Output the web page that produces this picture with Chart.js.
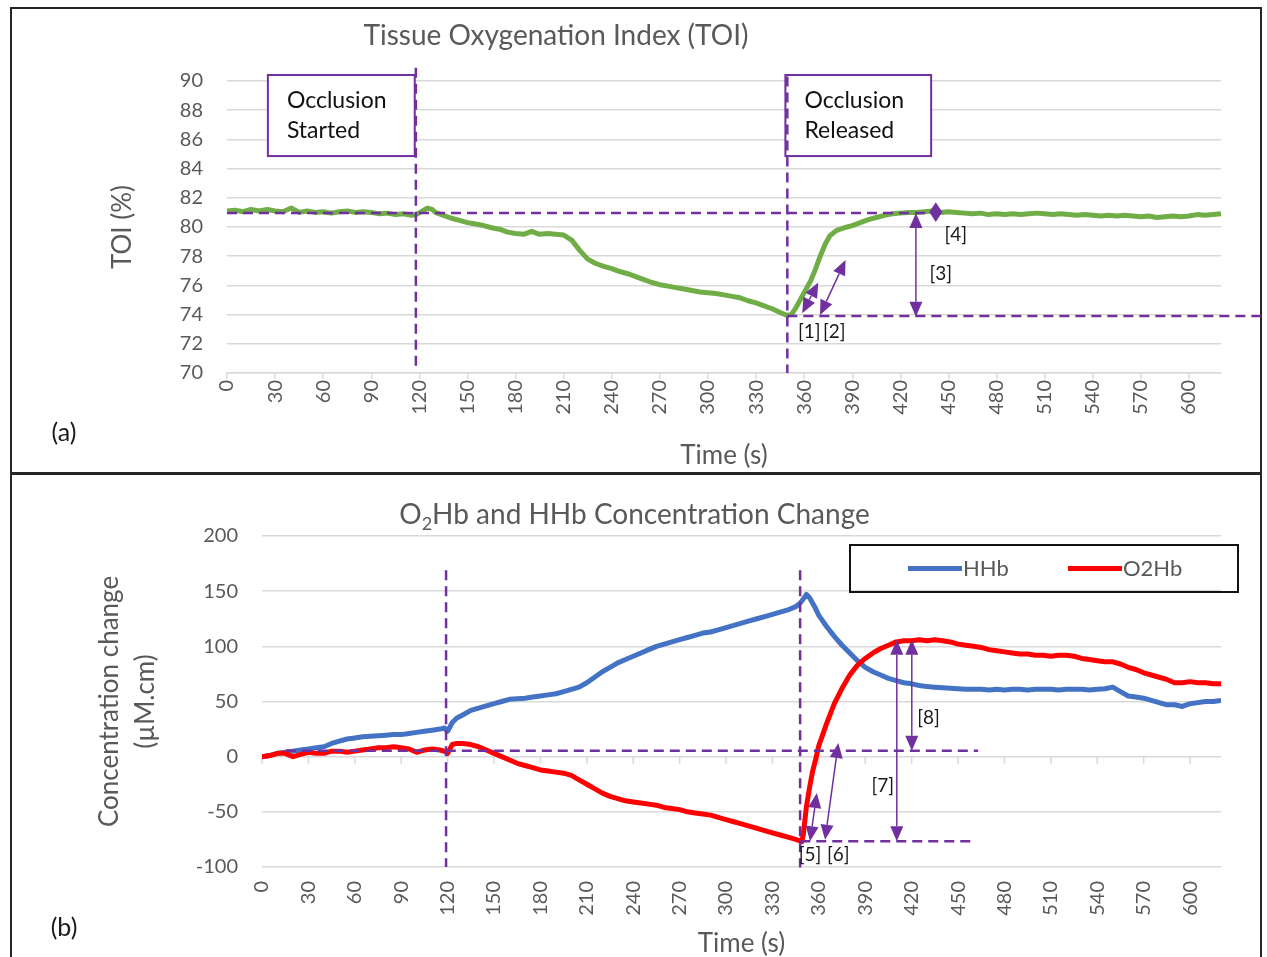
<!DOCTYPE html>
<html>
<head>
<meta charset="utf-8">
<script src="https://cdn.jsdelivr.net/npm/chart.js@4.4.1/dist/chart.umd.min.js"></script>
<style>
  html, body { margin: 0; padding: 0; background: #fff; overflow: hidden; }
  #page { position: relative; width: 1267px; height: 957px; }
  .panel { position: absolute; border: 2px solid #262626; box-sizing: border-box; }
  #panelA { left: 10px; top: 7px; width: 1252px; height: 468px; }
  #panelB { left: 10px; top: 472px; width: 1252px; height: 520px; }
  canvas { position: absolute; left: 0; }
  #toiChart { top: 0; }
  #hbChart { top: 473px; }
</style>
</head>
<body>
<div id="page">
  <div class="panel" id="panelA"></div>
  <div class="panel" id="panelB"></div>
  <canvas id="toiChart" width="1267" height="473"></canvas>
  <canvas id="hbChart" width="1267" height="486"></canvas>
</div>
<script>
const FONT = 'Lato, "Open Sans", sans-serif';
const GREY = '#595959';
const GRID = '#d9d9d9';
const PURPLE = '#7030a0';

// ---- (a) tissue oxygenation index, % ----
const toiTime = [
  0, 5, 10, 15, 20, 25, 30, 35, 40, 45, 50, 55, 60, 65, 70, 75, 80, 85, 90, 95, 100, 105, 110, 115,
  118, 122, 125, 128,
  130, 135, 140, 145, 150, 155, 160, 165, 170, 175, 180, 185, 190, 195, 200, 205, 210, 215, 220, 225,
  230, 235, 240, 245, 250, 255, 260, 265, 270, 275, 280, 285, 290, 295, 300, 305, 310, 315, 320, 325,
  330, 335, 340, 345,
  349, 352, 355, 358, 361, 364, 367, 370, 373, 376,
  380, 385, 390, 395, 400, 405, 410, 415, 420, 425, 430, 435, 440, 445, 450, 455, 460, 465, 470, 475,
  480, 485, 490, 495, 500, 505, 510, 515, 520, 525, 530, 535, 540, 545, 550, 555, 560, 565, 570, 575,
  580, 585, 590, 595, 600, 605, 610, 615, 620
];
const toiValue = [
  81.1, 81.15, 81.05, 81.2, 81.1, 81.2, 81.1, 81.05, 81.3, 81.0, 81.1, 81.0, 81.05, 80.95, 81.05, 81.1,
  81.0, 81.05, 81.0, 80.9, 80.95, 80.85, 80.9, 80.8,
  80.85, 81.1, 81.3, 81.2,
  81.0, 80.8, 80.6, 80.45, 80.3, 80.2, 80.1, 79.95, 79.85, 79.65, 79.55, 79.5, 79.7, 79.5, 79.55, 79.5,
  79.45, 79.1, 78.4, 77.8,
  77.5, 77.3, 77.15, 76.95, 76.8, 76.6, 76.4, 76.2, 76.05, 75.95, 75.85, 75.75, 75.65, 75.55, 75.5, 75.45,
  75.35, 75.25, 75.15, 74.95,
  74.8, 74.6, 74.4, 74.15,
  73.95, 74.0, 74.5, 75.1, 75.7, 76.3, 77.1, 78.0, 78.8, 79.4,
  79.75, 79.95, 80.1, 80.3, 80.5, 80.65, 80.8, 80.9, 80.95, 81.0, 81.0, 81.05, 81.1, 81.0, 81.05, 81.0,
  80.95, 80.9, 80.95, 80.85,
  80.9, 80.85, 80.9, 80.85, 80.9, 80.95, 80.9, 80.85, 80.9, 80.85, 80.8, 80.85, 80.8, 80.75, 80.8, 80.75,
  80.8, 80.75, 80.7, 80.75,
  80.65, 80.7, 80.75, 80.7, 80.75, 80.85, 80.8, 80.85, 80.9
];

// ---- (b) haemoglobin concentration change, µM.cm ----
const hbTime = [
  0, 5, 10, 15, 20, 25, 30, 35, 40, 45, 50, 55, 60, 65, 70, 75, 80, 85, 90, 95, 100, 105, 110, 115,
  118, 120, 123, 126,
  130, 135, 140, 145, 150, 155, 160, 165, 170, 175, 180, 185, 190, 195, 200, 205, 210, 215, 220, 225,
  230, 235, 240, 245, 250, 255, 260, 265, 270, 275, 280, 285, 290, 295, 300, 305, 310, 315, 320, 325,
  330, 335, 340, 345,
  347, 349, 350, 352, 354, 356, 358, 360, 362,
  365, 370, 375, 380, 385, 390, 395, 400, 405, 410, 415, 420, 425, 430, 435, 440, 445, 450, 455, 460,
  465, 470, 475, 480, 485, 490, 495, 500, 505, 510, 515, 520, 525, 530, 535, 540, 545, 550, 555, 560,
  565, 570, 575, 580, 585, 590, 595, 600, 605, 610, 615, 620
];
const hhbValue = [
  0, 1, 3, 4, 5, 6, 7, 8, 9, 12, 14, 16, 17, 18, 18.5, 19, 19.5, 20, 20, 21, 22, 23, 24, 25,
  26, 23, 31, 35,
  38, 42, 44, 46, 48, 50, 52, 52.5, 53, 54, 55, 56, 57, 59, 61, 63, 67, 72, 77, 81,
  85, 88, 91, 94, 97, 100, 102, 104, 106, 108, 110, 112, 113, 115, 117, 119, 121, 123, 125, 127,
  129, 131, 133, 136,
  138, 141, 143, 147, 144, 139, 134, 128, 124,
  118, 109, 101, 94, 87, 81, 77, 74, 71, 69, 67, 66, 64.5, 63.5, 63, 62.5, 62, 61.5, 61, 61,
  61, 60.5, 61, 60.5, 61, 61, 60.5, 61, 61, 61, 60.5, 61, 61, 61, 60.5, 61, 61.5, 63, 59, 55,
  54, 53, 51, 49, 47, 47, 45.5, 48, 49, 50, 50, 51
];
const o2hbValue = [
  0, 1, 3, 3, 0, 2, 4, 3, 3, 5, 5, 4, 5, 6, 7, 8, 8, 9, 8, 7, 4, 6, 7, 6,
  5, 3, 11, 12,
  12, 11, 9, 6, 3, 0, -3, -6, -8, -10, -12, -13, -14, -15, -17, -21, -25, -29, -33, -36,
  -38, -40, -41, -42, -43, -44, -46, -47, -48, -50, -51, -52, -53, -55, -57, -59, -61, -63, -65, -67,
  -69, -71, -73, -75,
  -76, -77, -70, -45, -28, -13, -2, 10, 18,
  30, 48, 62, 74, 83, 89, 94, 98, 101, 104, 105, 105, 106, 105, 106, 105, 104, 102, 101, 100,
  99, 97, 96, 95, 94, 93, 93, 92, 92, 91, 92, 92, 91, 89, 88, 87, 86, 86, 84, 81,
  79, 76, 74, 72, 70, 67, 67, 68, 67, 67, 66, 66
];

// axis ticks
const timeTicks = [0, 30, 60, 90, 120, 150, 180, 210, 240, 270, 300, 330, 360, 390, 420, 450, 480, 510, 540, 570, 600];
const toiTicks = [70, 72, 74, 76, 78, 80, 82, 84, 86, 88, 90];
const hbTicks = [-100, -50, 0, 50, 100, 150, 200];

// annotations, in (time, value) units: dashed guides, double arrows, labels, note boxes
const toiGuides = [[117.8, 90.9, 117.8, 70.2], [349.5, 90.3, 349.5, 70], [0, 80.96, 444, 80.96], [349.5, 73.9, 660, 73.9]];
const toiArrows = [[358.8, 74.1, 368.8, 76.2], [369.9, 73.97, 385.8, 77.74], [429.7, 80.96, 429.7, 73.86], [442.1, 81.7, 442.1, 80.35]];
const toiMarks = [['[1]', 363.2, 72.83], ['[2]', 378.8, 72.83], ['[3]', 445.2, 76.78], ['[4]', 454.6, 79.45]];
const toiNotes = [
  { t0: 25.5, v0: 90.41, t1: 117.1, v1: 84.86, text: ['Occlusion', 'Started'] },
  { t0: 348.3, v0: 90.41, t1: 439.2, v1: 84.86, text: ['Occlusion', 'Released'] }
];
const hbGuides = [[119, 169, 119, -100], [347.9, 169, 347.9, -100.5], [15.4, 5.4, 463, 5.4], [348, -76.7, 459, -76.7]];
const hbArrows = [[354.3, -76.7, 358.7, -32.9], [364.0, -75.2, 372.6, 12.4], [410.4, 106, 410.4, -76.7], [420.1, 106, 420.1, 5.4]];
const hbMarks = [['[5]', 354.3, -88.8], ['[6]', 372.6, -88.8], ['[7]', 401.3, -26.9], ['[8]', 430.9, 35]];

Chart.defaults.font.family = FONT;
Chart.defaults.color = GREY;

function series(times, values) {
  return times.map((t, i) => ({ x: t, y: values[i] }));
}

function arrowHead(ctx, x, y, ux, uy, hl, hw) {
  ctx.beginPath();
  ctx.moveTo(x, y);
  ctx.lineTo(x - ux * hl - uy * hw, y - uy * hl + ux * hw);
  ctx.lineTo(x - ux * hl + uy * hw, y - uy * hl - ux * hw);
  ctx.closePath();
  ctx.fill();
}

// draws dashed guides, note boxes, double arrows and bracket labels on top of a chart
function annotations(guides, arrows, marks, notes) {
  return {
    id: 'annotations',
    afterDraw(chart) {
      const { ctx, scales: { x, y } } = chart;
      const X = t => x.getPixelForValue(t), Y = v => y.getPixelForValue(v);
      ctx.save();
      notes.forEach(n => {
        const x0 = X(n.t0), y0 = Y(n.v0), w = X(n.t1) - x0, h = Y(n.v1) - y0;
        ctx.fillStyle = '#fff';
        ctx.fillRect(x0, y0, w, h);
        ctx.strokeStyle = PURPLE;
        ctx.lineWidth = 2;
        ctx.strokeRect(x0, y0, w, h);
        ctx.fillStyle = '#111';
        ctx.font = '23px ' + FONT;
        ctx.textAlign = 'left';
        ctx.textBaseline = 'middle';
        n.text.forEach((s, i) => ctx.fillText(s, x0 + 19, y0 + 26 + i * 30));
      });
      ctx.strokeStyle = PURPLE;
      ctx.lineWidth = 2.5;
      ctx.setLineDash([10, 6]);
      guides.forEach(g => {
        ctx.beginPath();
        ctx.moveTo(X(g[0]), Y(g[1]));
        ctx.lineTo(X(g[2]), Y(g[3]));
        ctx.stroke();
      });
      ctx.setLineDash([]);
      ctx.lineWidth = 1.5;
      ctx.fillStyle = PURPLE;
      arrows.forEach(a => {
        const x0 = X(a[0]), y0 = Y(a[1]), x1 = X(a[2]), y1 = Y(a[3]);
        const len = Math.hypot(x1 - x0, y1 - y0);
        const ux = (x1 - x0) / len, uy = (y1 - y0) / len;
        const hl = Math.min(15, len / 2), hw = 6.5;
        ctx.beginPath();
        ctx.moveTo(x0 + ux * hl, y0 + uy * hl);
        ctx.lineTo(x1 - ux * hl, y1 - uy * hl);
        ctx.stroke();
        arrowHead(ctx, x1, y1, ux, uy, hl, hw);
        arrowHead(ctx, x0, y0, -ux, -uy, hl, hw);
      });
      ctx.fillStyle = '#1a1a1a';
      ctx.font = '19px ' + FONT;
      ctx.textAlign = 'center';
      ctx.textBaseline = 'middle';
      marks.forEach(m => ctx.fillText(m[0], X(m[1]), Y(m[2])));
      ctx.restore();
    }
  };
}

function timeAxis(height, tickLen, pad, titleBottom) {
  return {
    type: 'linear', min: 0, max: 620,
    afterBuildTicks: s => { s.ticks = timeTicks.map(v => ({ value: v })); },
    ticks: { autoSkip: false, minRotation: 90, maxRotation: 90, padding: pad, color: GREY, font: { size: 20 } },
    grid: { drawOnChartArea: false, drawTicks: tickLen > 0, tickLength: tickLen, color: GRID, lineWidth: 1.5 },
    border: { display: tickLen > 0, color: GRID, width: 1.5 },
    title: { display: true, text: 'Time (s)', color: GREY, font: { size: 26 }, padding: { top: 0, bottom: titleBottom } },
    afterFit: s => { s.height = height; }
  };
}

function valueAxis(min, max, tickList, width, title, lineHeight, titleTop) {
  return {
    min, max,
    afterBuildTicks: s => { s.ticks = tickList.map(v => ({ value: v })); },
    ticks: { padding: 24, color: GREY, font: { size: 20 } },
    grid: { drawTicks: false, color: GRID, lineWidth: 1.5 },
    border: { display: false },
    title: { display: true, text: title, color: GREY, font: { size: 26, lineHeight }, padding: { top: titleTop, bottom: 0 } },
    afterFit: s => { s.width = width; }
  };
}

const common = {
  responsive: false,
  animation: false,
  events: [],
  plugins: { legend: { display: false }, tooltip: { enabled: false } },
  elements: { point: { radius: 0 }, line: { borderWidth: 5, tension: 0, borderJoinStyle: 'round' } }
};

// (a) TOI panel
new Chart(document.getElementById('toiChart'), {
  type: 'line',
  data: {
    datasets: [{ label: 'TOI', data: series(toiTime, toiValue), borderColor: '#70ad47' }]
  },
  options: {
    ...common,
    layout: { padding: { left: 106, right: 46, top: 81, bottom: 0 } },
    scales: {
      x: timeAxis(100, 6, 1, 2),
      y: valueAxis(70, 90, toiTicks, 121, 'TOI (%)', 1.2, 1)
    }
  },
  plugins: [annotations(toiGuides, toiArrows, toiMarks, toiNotes), {
    id: 'panelText',
    afterDraw(chart) {
      const ctx = chart.ctx;
      ctx.save();
      ctx.fillStyle = GREY;
      ctx.font = '28px ' + FONT;
      ctx.textAlign = 'center';
      ctx.textBaseline = 'alphabetic';
      ctx.fillText('Tissue Oxygenation Index (TOI)', 556, 45);
      ctx.fillStyle = '#1a1a1a';
      ctx.font = '25px ' + FONT;
      ctx.textBaseline = 'middle';
      ctx.fillText('(a)', 64, 433);
      ctx.restore();
    }
  }]
});

// (b) HHb / O2Hb panel
new Chart(document.getElementById('hbChart'), {
  type: 'line',
  data: {
    datasets: [
      { label: 'HHb', data: series(hbTime, hhbValue), borderColor: '#4472c4', order: 1 },
      { label: 'O2Hb', data: series(hbTime, o2hbValue), borderColor: '#ff0000', order: 0 }
    ]
  },
  options: {
    ...common,
    layout: { padding: { left: 88, right: 46, top: 63, bottom: 0 } },
    scales: {
      x: timeAxis(92, 0, 14, 0),
      y: valueAxis(-100, 200, hbTicks, 174, ['Concentration change', '(µM.cm)'], 1.35, 4.5)
    }
  },
  plugins: [{
    id: 'zeroAxis',
    beforeDatasetsDraw(chart) {
      // tick marks hang from the zero line, labels stay at the bottom
      const { ctx, scales: { x, y } } = chart;
      const y0 = y.getPixelForValue(0);
      ctx.save();
      ctx.strokeStyle = GRID;
      ctx.lineWidth = 1.5;
      timeTicks.forEach(t => {
        const px = x.getPixelForValue(t);
        ctx.beginPath();
        ctx.moveTo(px, y0);
        ctx.lineTo(px, y0 + 7);
        ctx.stroke();
      });
      ctx.restore();
    }
  }, annotations(hbGuides, hbArrows, hbMarks, []), {
    id: 'panelText',
    afterDraw(chart) {
      const ctx = chart.ctx;
      ctx.save();
      // title with subscript 2
      const big = '28px ' + FONT, small = '18px ' + FONT;
      const rest = 'Hb and HHb Concentration Change';
      ctx.font = big;
      const wO = ctx.measureText('O').width, wR = ctx.measureText(rest).width;
      ctx.font = small;
      const w2 = ctx.measureText('2').width;
      let x0 = 634.5 - (wO + w2 + wR) / 2;
      ctx.fillStyle = GREY;
      ctx.textAlign = 'left';
      ctx.textBaseline = 'alphabetic';
      ctx.font = big;
      ctx.fillText('O', x0, 51);
      ctx.font = small;
      ctx.fillText('2', x0 + wO, 57);
      ctx.font = big;
      ctx.fillText(rest, x0 + wO + w2, 51);

      // legend
      ctx.strokeStyle = '#111';
      ctx.lineWidth = 2;
      ctx.strokeRect(850, 72, 388, 47);
      const slots = [908, 1068];
      ctx.font = '22px ' + FONT;
      ctx.textBaseline = 'middle';
      chart.data.datasets.forEach((ds, i) => {
        ctx.strokeStyle = ds.borderColor;
        ctx.lineWidth = 5;
        ctx.beginPath();
        ctx.moveTo(slots[i], 95.5);
        ctx.lineTo(slots[i] + 54, 95.5);
        ctx.stroke();
        ctx.fillStyle = GREY;
        ctx.fillText(ds.label, slots[i] + 55, 95.5);
      });

      ctx.fillStyle = '#1a1a1a';
      ctx.font = '25px ' + FONT;
      ctx.textAlign = 'center';
      ctx.fillText('(b)', 64, 455);
      ctx.restore();
    }
  }]
});
</script>
</body>
</html>
